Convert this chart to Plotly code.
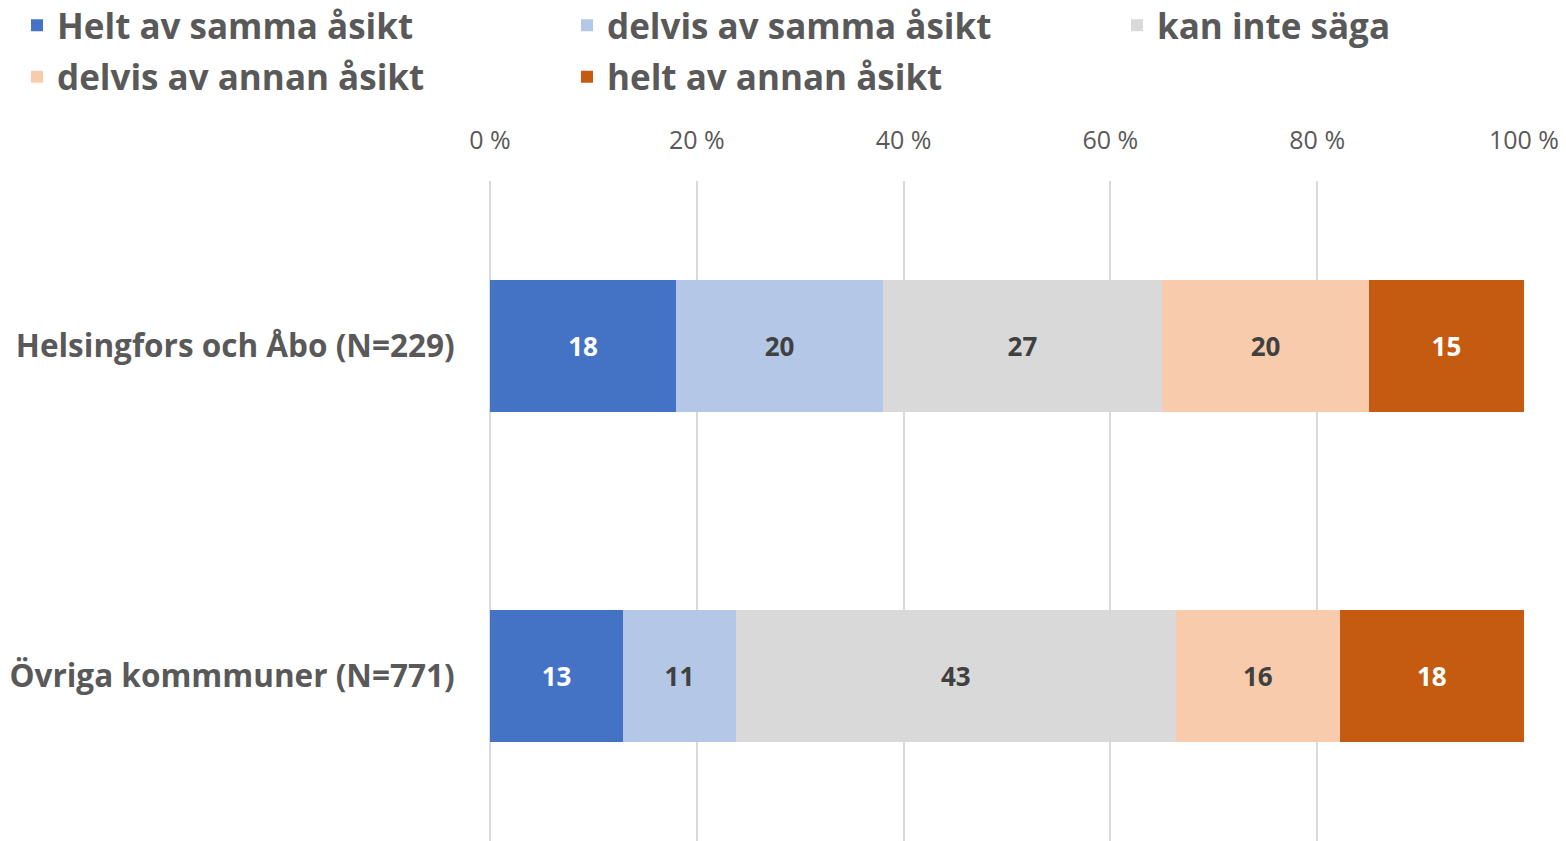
import plotly.graph_objects as go

categories = ["Helsingfors och Åbo (N=229)", "Övriga kommmuner (N=771)"]
series_names = ["Helt av samma åsikt", "delvis av samma åsikt", "kan inte säga",
                "delvis av annan åsikt", "helt av annan åsikt"]
helt_samma = [18, 13]
delvis_samma = [20, 11]
kan_inte = [27, 43]
delvis_annan = [20, 16]
helt_annan = [15, 18]
tick_values = [0, 20, 40, 60, 80, 100]

series_values = [helt_samma, delvis_samma, kan_inte, delvis_annan, helt_annan]
colors = ["#4472C4", "#B4C7E7", "#D9D9D9", "#F8CBAD", "#C55A11"]
text_colors = ["#FFFFFF", "#404040", "#404040", "#404040", "#FFFFFF"]
legend_ids = ["legend", "legend2", "legend3", "legend", "legend2"]

FONT = "Open Sans"
L, R, T, B = 490, 42, 181, 0
W, H = 1566, 841
PW, PH = W - L - R, H - T - B


def px_x(p):
    return (p - L) / PW


def px_y(p):
    return 1 + (T - p) / PH


fig = go.Figure()
for i, (name, vals) in enumerate(zip(series_names, series_values)):
    fig.add_trace(go.Bar(
        y=categories, x=vals, name=name, orientation="h",
        marker=dict(color=colors[i], line=dict(width=0)),
        text=[str(v) for v in vals], textposition="inside",
        insidetextanchor="middle", textangle=0,
        textfont=dict(family=FONT, size=26, color=text_colors[i], weight="bold"),
        legend=legend_ids[i], legendgroup=f"g{i}",
        hoverinfo="skip",
    ))

legend_common = dict(
    orientation="v", xref="paper", yref="paper",
    yanchor="top", xanchor="left", y=px_y(-4),
    font=dict(family=FONT, size=35, color="#595959", weight="bold"),
    bgcolor="rgba(0,0,0,0)", tracegroupgap=3, itemclick=False,
    traceorder="grouped",
)

fig.update_layout(
    width=W, height=H,
    margin=dict(l=L, r=R, t=T, b=B, autoexpand=False),
    plot_bgcolor="white", paper_bgcolor="white",
    barmode="stack", barnorm="percent", bargap=0.598,
    font=dict(family=FONT, color="#595959"),
    legend=dict(legend_common, x=px_x(17)),
    legend2=dict(legend_common, x=px_x(567)),
    legend3=dict(legend_common, x=px_x(1117)),
    xaxis=dict(
        side="top", range=[0, 100], tickvals=tick_values,
        ticktext=[f"{v} %" for v in tick_values],
        showgrid=True, gridcolor="#D9D9D9", gridwidth=2,
        zeroline=True, zerolinecolor="#D9D9D9", zerolinewidth=2,
        showline=False, ticks="outside", ticklen=21, tickcolor="rgba(0,0,0,0)",
        tickfont=dict(family=FONT, size=25, color="#595959"),
        tickangle=0, fixedrange=True,
    ),
    yaxis=dict(
        autorange="reversed", showgrid=False, zeroline=False, showline=False,
        ticks="outside", ticklen=28, tickcolor="rgba(0,0,0,0)",
        tickfont=dict(family=FONT, size=31.5, color="#595959", weight="bold"),
        fixedrange=True,
    ),
)

fig.write_html(
    "out.html",
    config={"displayModeBar": False},
    post_script="document.body.style.margin='0';document.body.style.overflow='hidden';",
)
